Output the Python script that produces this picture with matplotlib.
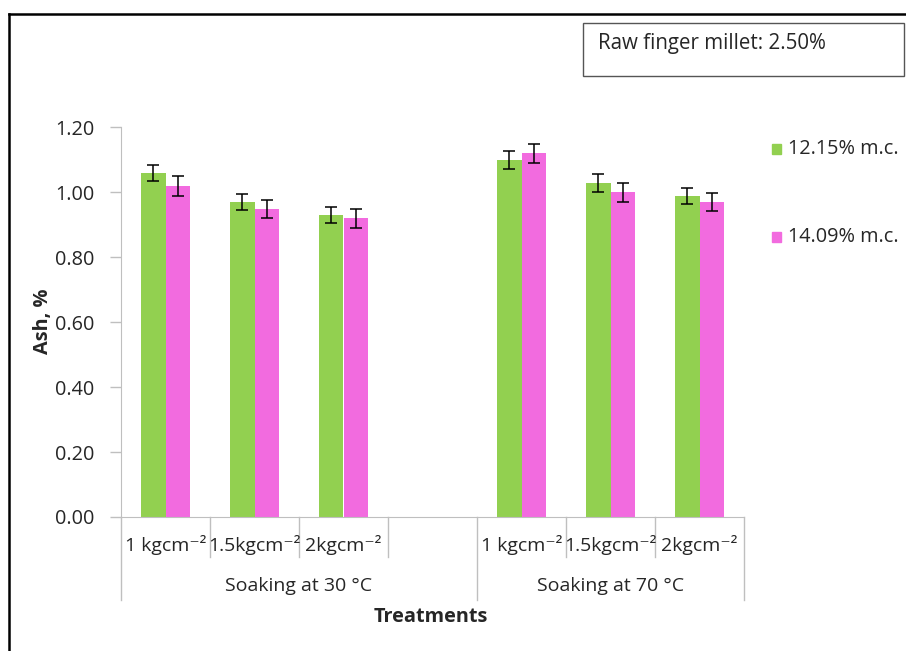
import matplotlib.pyplot as plt
from matplotlib.lines import Line2D
from matplotlib.patches import Rectangle

plt.rcParams['font.family'] = ['Open Sans', 'DejaVu Sans']

# Data
categories = ["1 kgcm⁻²", "1.5kgcm⁻²", "2kgcm⁻²", "", "1 kgcm⁻²", "1.5kgcm⁻²", "2kgcm⁻²"]
groups = ["Soaking at 30 °C", "Soaking at 70 °C"]
group_spans = [(0, 3), (4, 6)]   # category index ranges covered by each group
mc_low = [1.06, 0.97, 0.93, None, 1.10, 1.03, 0.99]
mc_high = [1.02, 0.95, 0.92, None, 1.12, 1.00, 0.97]
err_low = [0.026, 0.025, 0.025, None, 0.027, 0.028, 0.025]
err_high = [0.030, 0.028, 0.029, None, 0.030, 0.030, 0.028]
series_names = ["12.15% m.c.", "14.09% m.c."]
yticks = [0.0, 0.2, 0.4, 0.6, 0.8, 1.0, 1.2]

GREEN = "#92D050"
PINK = "#F26BDF"
GRAY = "#BFBFBF"
TXT = "#262626"
FS = 14.3

fig = plt.figure(figsize=(9.06, 6.51), dpi=100)
ax = fig.add_axes([121 / 906, 1 - 517 / 651, (744 - 121) / 906, (517 - 127.5) / 651])

w = 0.28
ekw = dict(ecolor="black", elinewidth=1.1, capsize=4, capthick=1.1)
for i in range(len(categories)):
    if mc_low[i] is None:
        continue
    ax.bar(i - w / 2, mc_low[i], width=w, color=GREEN, yerr=err_low[i], error_kw=ekw)
    ax.bar(i + w / 2, mc_high[i], width=w, color=PINK, yerr=err_high[i], error_kw=ekw)

ax.set_xlim(-0.5, len(categories) - 0.5)
ax.set_ylim(0, 1.2)
ax.set_yticks(yticks)
ax.set_yticklabels([f"{t:.2f}" for t in yticks], fontsize=FS, color=TXT)
ax.tick_params(axis="y", direction="out", length=8, width=1, color=GRAY, pad=11)
ax.set_xticks([])
for s in ["top", "right"]:
    ax.spines[s].set_visible(False)
ax.spines["left"].set_color(GRAY)
ax.spines["bottom"].set_color(GRAY)

# multi-level category axis
trans = ax.get_xaxis_transform()
n = len(categories)
long_edges = [-0.5] + [g[1] + 0.5 for g in group_spans]
for k in range(n + 1):
    xb = k - 0.5
    low = -0.213 if xb in long_edges else -0.103
    ax.add_line(Line2D([xb, xb], [0, low], transform=trans, color=GRAY,
                       lw=1, clip_on=False))
for i, lab in enumerate(categories):
    ax.text(i, -0.072, lab, transform=trans, ha="center", va="center",
            fontsize=14, color=TXT)
for g, (a, b) in zip(groups, group_spans):
    ax.text((a + b) / 2, -0.177, g, transform=trans, ha="center", va="center",
            fontsize=14, color=TXT)

fig.text(431 / 906, 1 - 617 / 651, "Treatments", ha="center", va="center",
         fontsize=FS, fontweight="bold", color=TXT)
fig.text(43 / 906, 1 - 321 / 651, "Ash, %", ha="center", va="center",
         rotation=90, fontsize=FS, fontweight="bold", color=TXT)

# legend
for name, col, yp in zip(series_names, [GREEN, PINK], [149, 237]):
    fig.patches.append(Rectangle((772 / 906, 1 - (yp + 5) / 651), 9 / 906, 10 / 651,
                                 transform=fig.transFigure, color=col))
    fig.text(788 / 906, 1 - yp / 651, name, ha="left", va="center",
             fontsize=FS, color=TXT)

# annotation box
fig.patches.append(Rectangle((583 / 906, 1 - 76 / 651), (904 - 583) / 906, (76 - 23) / 651,
                             transform=fig.transFigure, fill=False,
                             edgecolor="#555555", lw=1))
fig.text(598 / 906, 1 - 43 / 651, "Raw finger millet: 2.50%", ha="left", va="center",
         fontsize=FS + 0.5, color=TXT)

# outer frame (runs off the right and bottom edges)
fig.add_artist(Line2D([9 / 906, 1.0], [1 - 14 / 651] * 2, transform=fig.transFigure,
                      color="black", lw=1.8))
fig.add_artist(Line2D([9 / 906] * 2, [0, 1 - 14 / 651], transform=fig.transFigure,
                      color="black", lw=1.8))

fig.savefig("out.png", dpi=100)
